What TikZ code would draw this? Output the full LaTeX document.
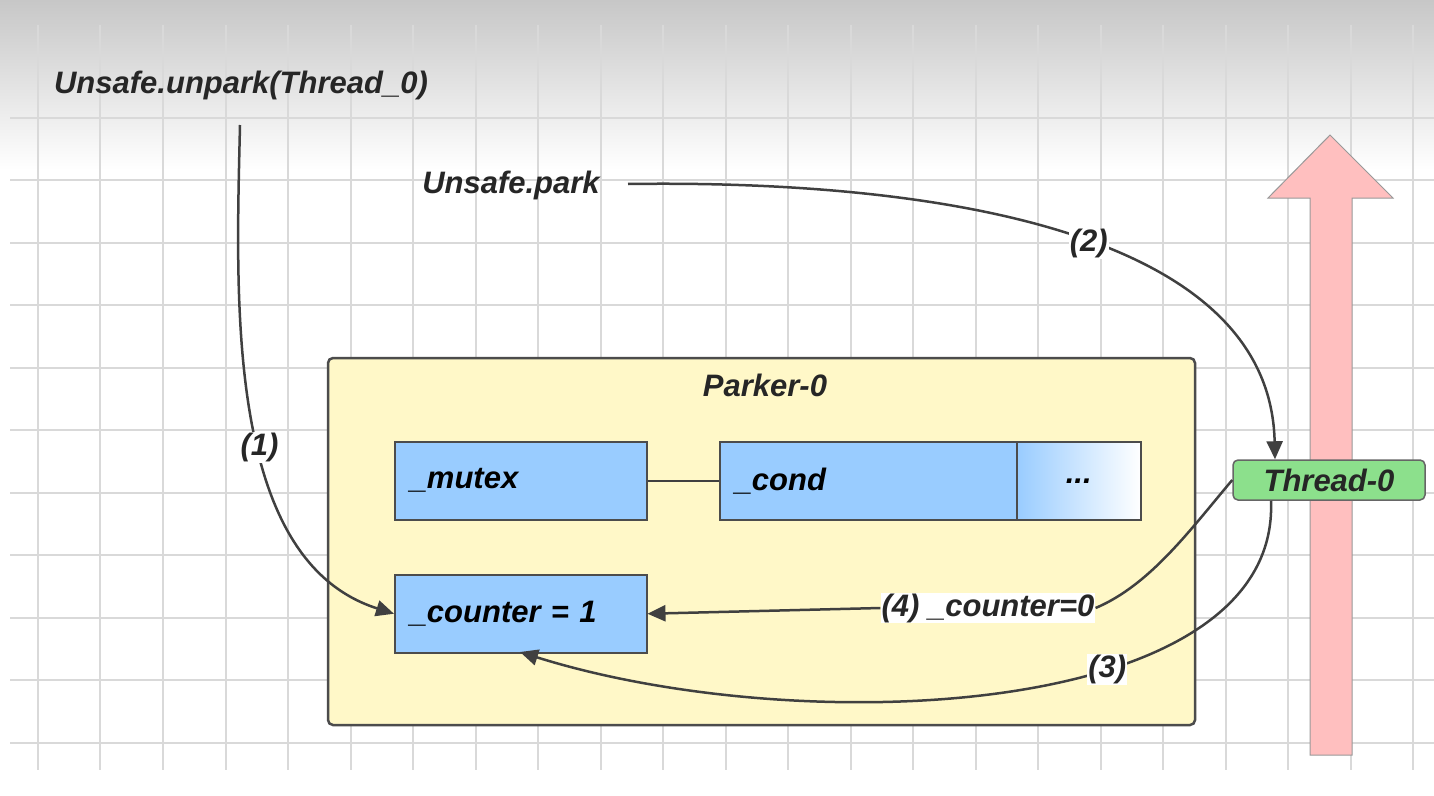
\documentclass[tikz,border=0pt]{standalone}
\usepackage{fontspec}
\setmainfont{Liberation Sans}
\usetikzlibrary{arrows.meta}
\definecolor{bx}{HTML}{99CCFF}
\definecolor{gr}{HTML}{8CE08C}
\definecolor{yl}{HTML}{FFF8C8}
\begin{document}
\begin{tikzpicture}[x=1pt,y=-1pt,
  lbl/.style={font=\fontsize{31}{34}\selectfont\bfseries\itshape, text=black!85, inner sep=2pt},
  box/.style={draw=black!70, line width=1.5pt, fill=bx, anchor=north west, font=\fontsize{31}{34}\selectfont\bfseries\itshape, align=left},
  con/.style={draw=black!75, line width=2.5pt, -{Triangle[length=18pt,width=16pt]}}]
\useasboundingbox (0,0) rectangle (1434,795);
\fill[white] (0,0) rectangle (1434,795);
\shade[top color=black!22, bottom color=white] (0,0) rectangle (1434,170);
\foreach \x in {38,100,163,226,288,351,413,476,538,601,663,726,788,851,913,976,1038,1101,1163,1226,1288,1351,1413}
  \draw[black!15, line width=1.2pt] (\x,25) -- (\x,770);
\foreach \y in {55,118,180,243,305,368,430,493,555,618,680,743}
  \draw[black!15, line width=1.2pt] (10,\y) -- (1434,\y);
% big arrow
\fill[red!25, draw=black!40, line width=1pt] (1310,755) -- (1310,198) -- (1268,198) -- (1330,135) -- (1393,198) -- (1352,198) -- (1352,755) -- cycle;
% parker
\draw[fill=yl, draw=black!70, line width=2.5pt, rounded corners=5pt] (328,358) rectangle (1195,725);
\node[lbl] (parker) at (765,385) {Parker-0};
\node[box, minimum width=252pt, minimum height=78pt, text width=222pt] (mutex) at (394,441) {\_mutex};
\node[box, minimum width=297pt, minimum height=78pt, text width=267pt] (cond) at (719,441) {\_cond};
\node[box, minimum width=124pt, minimum height=78pt, align=center, left color=bx, right color=white, draw=black!70] (dots) at (1016,441) {...};
\node[box, minimum width=252pt, minimum height=78pt, text width=222pt] (counter) at (394,574) {\_counter = 1};
\draw[black!75, line width=2.5pt] (mutex.east) -- (cond.west);
\node[lbl, draw=black!60, line width=1.5pt, fill=gr, rounded corners=5pt, minimum width=192pt, minimum height=40pt] (thread) at (1329,480) {Thread-0};
\node[lbl] (unpark) at (241,85) {Unsafe.unpark(Thread\_0)};
\node[lbl] (park) at (511,185) {Unsafe.park};
\coordinate (u0) at (240,125);
\coordinate (pk) at (628,184);
% (1)
\draw[con] (u0) .. controls (236,300) and (225,560) .. node[pos=0.56, lbl, fill=white, inner sep=1pt] {(1)} (counter.west);
% (2)
\draw[con] (pk) .. controls (900,180) and (1270,220) .. node[pos=0.55, lbl, fill=white, inner sep=1pt] {(2)} ([xshift=-54pt]thread.north);
% (3)
\draw[con] ([xshift=-58pt]thread.south) .. controls (1280,720) and (800,740) .. node[pos=0.38, lbl, fill=white, inner sep=1pt] {(3)} (520,652);
% (4)
\node[lbl, fill=white, inner sep=1pt] (l4) at (988,608) {(4) \_counter=0};
\draw[black!75, line width=2.5pt] (thread.west) .. controls (1190,530) and (1150,585) .. (l4.east);
\draw[con] (l4.west) -- (counter.east);
\end{tikzpicture}
\end{document}
